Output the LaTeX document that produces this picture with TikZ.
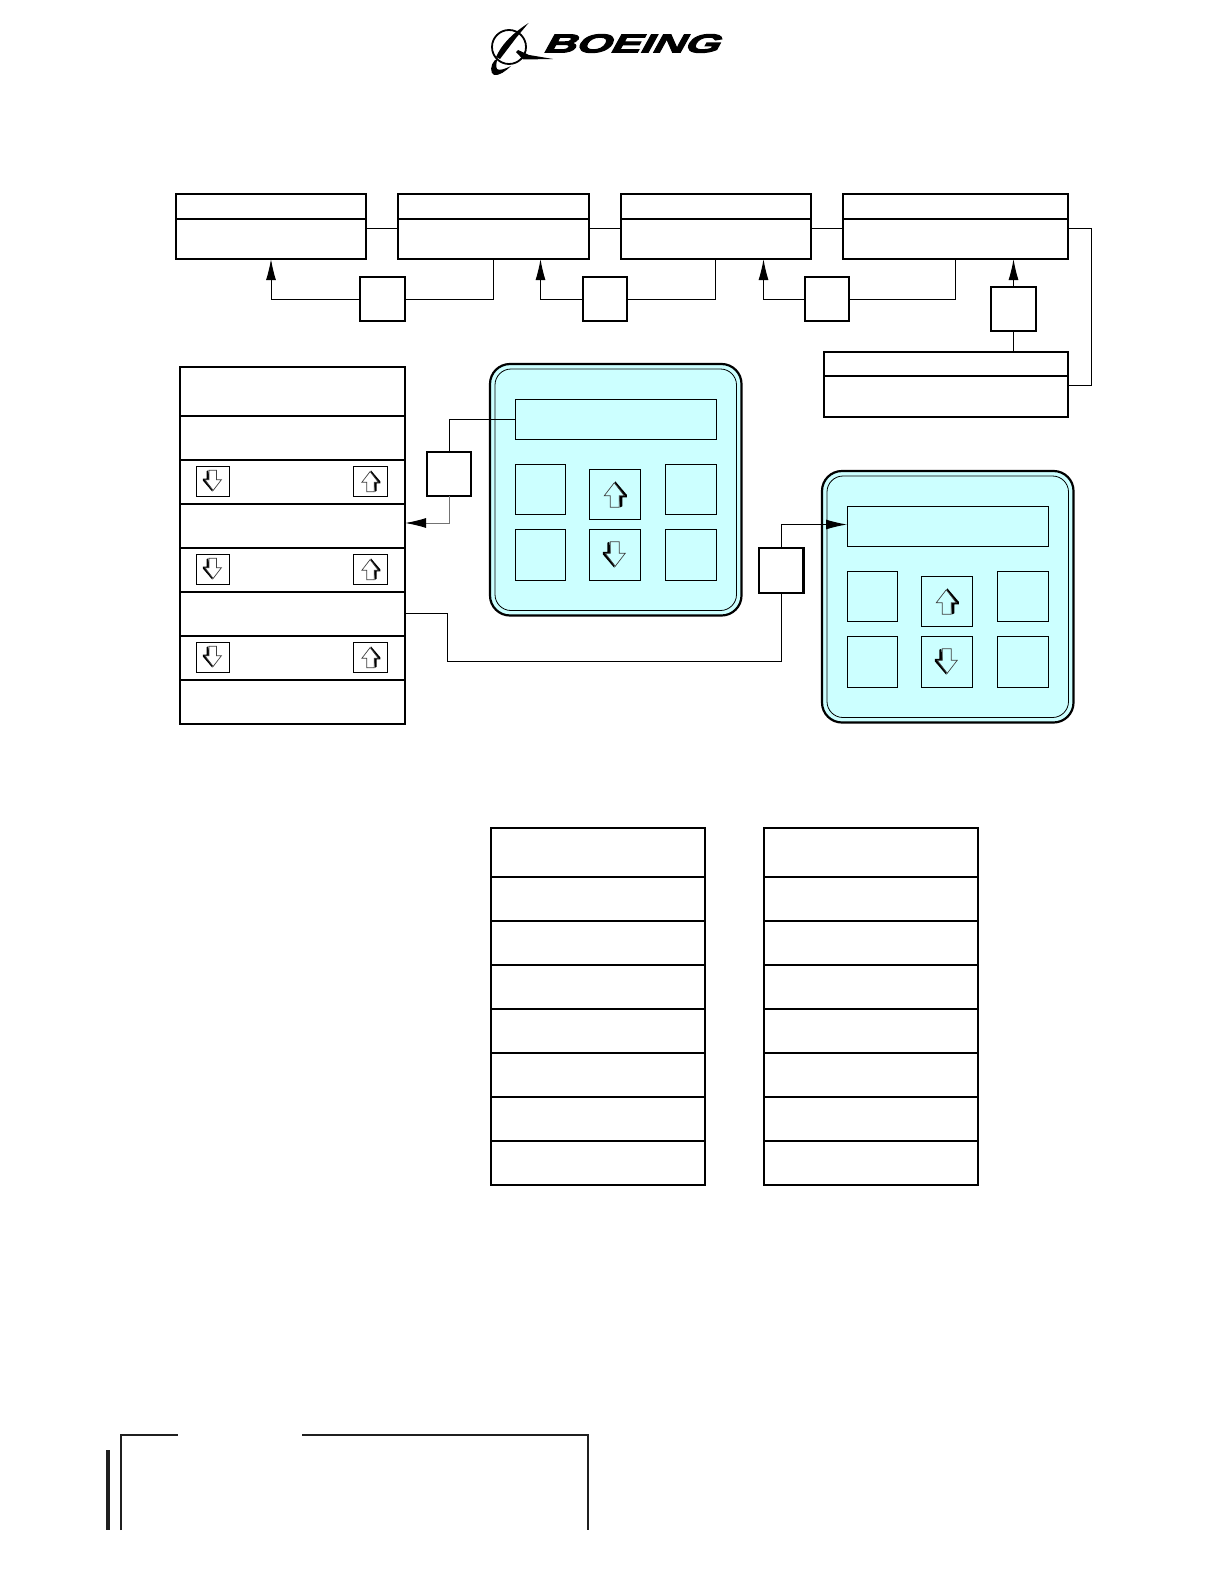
\documentclass[tikz,border=0pt]{standalone}
\usepackage{fontspec}
\newfontfamily\logofont[FakeBold=4,FakeStretch=1.74,FakeSlant=.55,LetterSpace=-2]{Liberation Sans Bold}
\usetikzlibrary{arrows.meta}
\definecolor{panelcyan}{HTML}{CCFFFF}
\tikzset{
  x=1pt,y=-1pt,
  cell/.style={draw=black,line width=2pt,fill=white,inner sep=0pt,outer sep=0pt},
  thin cell/.style={draw=black,line width=1pt,inner sep=0pt,outer sep=0pt},
  shell/.style={draw=black,line width=2.2pt,fill=panelcyan,rounded corners=20pt,inner sep=0pt,outer sep=0pt},
  innershell/.style={draw=black,line width=.8pt,rounded corners=16pt,inner sep=0pt,outer sep=0pt},
  wire/.style={draw=black,line width=1pt},
  greywire/.style={draw=black!55,line width=1pt},
  arr/.style={-{Latex[length=21pt,width=10pt,black]}},
  frameline/.style={draw=black!88,line width=2pt},
  pics/uparrow/.style={code={
    \fill[black,line join=round] (0.5,-13)--(12,0.5)--(12,3)--(7.5,3)--(7.5,12)--(5.5,13)--(4,3)--(0,-10)--cycle;
    \filldraw[fill=#1,draw=black!75,line width=.7pt] (-.5,-11.5)--(9.5,1.5)--(4.5,1.5)--(4.5,13)--(-4.5,13)--(-4.5,1.5)--(-10.5,1.5)--cycle;}},
  pics/downarrow/.style={code={
    \fill[black,line join=round] (-0.5,13)--(-12,-0.5)--(-12,-3)--(-7.5,-3)--(-7.5,-12)--(-5.5,-13)--(-4,-3)--(0,10)--cycle;
    \filldraw[fill=#1,draw=black!75,line width=.7pt] (.5,11.5)--(10.5,-1.5)--(4.5,-1.5)--(4.5,-13)--(-4.5,-13)--(-4.5,-1.5)--(-9.5,-1.5)--cycle;}},
}
% \bx[style]{name}{x1}{y1}{x2}{y2}
\newcommand{\bx}[6][cell]{\node[#1,minimum width={(#5-#3)*1pt},minimum height={(#6-#4)*1pt}] (#2) at ({(#3+#5)/2},{(#4+#6)/2}) {};}
\begin{document}
\begin{tikzpicture}
\useasboundingbox (0,0) rectangle (1223,1584);
% logo
\draw[line width=1.8pt] (509,47) circle (17);
\fill[white] (521,28) -- (531,22) -- (531,40) -- cycle;
\fill (528.5,23) -- (516,38) -- (500,59) -- (496,57) .. controls (501,46) and (510,35) .. cycle;
\fill (553,59) -- (529,55) -- (518,50) -- (516,52) -- (523,59.5) -- cycle;
\fill (495,60) .. controls (490,65) and (490,73) .. (494,75) .. controls (499,76) and (506,71) .. (511,66) .. controls (505,69) and (499,71) .. (497,69) .. controls (496,67) and (496,63) .. (497,60) -- cycle;
\node[inner sep=0pt,font=\logofont\fontsize{26}{26}\selectfont] (logo) at (630,43.5) {BOEING};
% top row
\bx{b1top}{176}{194}{366}{219}\bx{b1low}{176}{219}{366}{259}
\bx{b2top}{398}{194}{589}{219}\bx{b2low}{398}{219}{589}{259}
\bx{b3top}{621}{194}{811}{219}\bx{b3low}{621}{219}{811}{259}
\bx{b4top}{843}{194}{1068}{219}\bx{b4low}{843}{219}{1068}{259}
\bx{b5top}{824}{352}{1068}{376}\bx{b5low}{824}{376}{1068}{417}
\bx{s1}{360}{277}{405}{321}
\bx{s2}{583}{277}{627}{321}
\bx{s3}{805}{277}{849}{321}
\bx{s4}{991}{287}{1036}{331}
\coordinate (j1) at (0,228);
\coordinate (j5) at (0,385);
\coordinate (k) at (1091.5,0);
\coordinate (a1) at (271,0);
\coordinate (a2) at (540.5,0);
\coordinate (a3) at (763.5,0);
\coordinate (t2) at (493,0);
\coordinate (t3) at (715.5,0);
\coordinate (t4) at (955,0);
\draw[wire] (b1low.east |- j1) -- (b2low.west |- j1);
\draw[wire] (b2low.east |- j1) -- (b3low.west |- j1);
\draw[wire] (b3low.east |- j1) -- (b4low.west |- j1);
\draw[wire] (b4low.east |- j1) -- (k |- j1) -- (k |- j5) -- (b5low.east |- j5);
\draw[wire,arr] (s1.west) -| (b1low.south -| a1);
\draw[wire,arr] (s2.west) -| (b2low.south -| a2);
\draw[wire,arr] (s3.west) -| (b3low.south -| a3);
\draw[wire] (s1.east) -| (b2low.south -| t2);
\draw[wire] (s2.east) -| (b3low.south -| t3);
\draw[wire] (s3.east) -| (b4low.south -| t4);
\draw[wire,arr] (s4.north) -- (b4low.south -| s4.north);
\draw[wire] (s4.south) -- (b5top.north -| s4.south);
% left table
\bx{r1}{180}{367}{405}{415.5}\bx{r2}{180}{415.5}{405}{460}\bx{r3}{180}{460}{405}{504}
\bx{r4}{180}{504}{405}{548}\bx{r5}{180}{548}{405}{592}\bx{r6}{180}{592}{405}{636}
\bx{r7}{180}{636}{405}{680}\bx{r8}{180}{680}{405}{723.5}
\foreach \nm/\ya/\yb in {r3/466/496,r5/554/584,r7/642/672}{
  \bx[thin cell]{\nm d}{196}{\ya}{229.5}{\yb}
  \bx[thin cell]{\nm u}{353.5}{\ya}{387.5}{\yb}
  \pic[scale=.82] at (\nm d) {downarrow=white};
  \pic[scale=.82] at (\nm u) {uparrow=white};
}
% panels
\foreach \n/\dx/\dy in {p/0/0,q/332/107}{
  \begin{scope}[shift={(\dx,\dy)}]
  \bx[shell]{\n o}{490}{364}{741.5}{615.5}
  \bx[innershell]{\n i}{495}{369}{736.5}{610.5}
  \bx[thin cell]{\n d}{515}{399}{716.5}{439}
  \bx[thin cell]{\n a}{515}{464}{565.5}{514}
  \bx[thin cell]{\n u}{589}{469}{640.5}{519.5}
  \bx[thin cell]{\n b}{665.5}{464}{716.5}{514}
  \bx[thin cell]{\n c}{515}{529}{565.5}{580.5}
  \bx[thin cell]{\n w}{589}{529}{640.5}{580.5}
  \bx[thin cell]{\n e}{665.5}{529}{716.5}{580.5}
  \pic at (\n u) {uparrow=panelcyan};
  \pic at (\n w) {downarrow=panelcyan};
  \end{scope}
}
\bx{s5}{427}{452}{471}{496}
\bx{s6}{758.5}{548}{803.5}{593}
\foreach \n in {s1,s2,s3,s4,s6}{\draw[line width=2.8pt] (\n.north east) -- (\n.south east);}
\coordinate (v1) at (0,419);
\coordinate (v2) at (0,523);
\coordinate (v3) at (0,524.5);
\coordinate (v4) at (447.5,613);
\coordinate (v5) at (447.5,661.5);
\draw[wire] (pd.west |- v1) -| (s5.north);
\draw[greywire,arr] (s5.south) |- (r4.east |- v2);
\draw[wire,arr] (s6.north) |- (qd.west |- v3);
\draw[wire] (r6.east |- v4) -- (v4) -- (v5) -| (s6.south);
% lower tables
\foreach \n/\xa/\xb in {m/491/705,n/764/978}{
  \bx{\n1}{\xa}{827.5}{\xb}{877}\bx{\n2}{\xa}{877}{\xb}{920.5}
  \bx{\n3}{\xa}{920.5}{\xb}{965}\bx{\n4}{\xa}{965}{\xb}{1009}
  \bx{\n5}{\xa}{1009}{\xb}{1053}\bx{\n6}{\xa}{1053}{\xb}{1097}
  \bx{\n7}{\xa}{1097}{\xb}{1141}\bx{\n8}{\xa}{1141}{\xb}{1185}
}
% footer
\fill[black!88] (106,1450) rectangle (110,1530);
\draw[frameline] (121,1530) -- (121,1435) -- (178,1435);
\draw[frameline] (302,1435) -- (588,1435) -- (588,1530);
\end{tikzpicture}
\end{document}
